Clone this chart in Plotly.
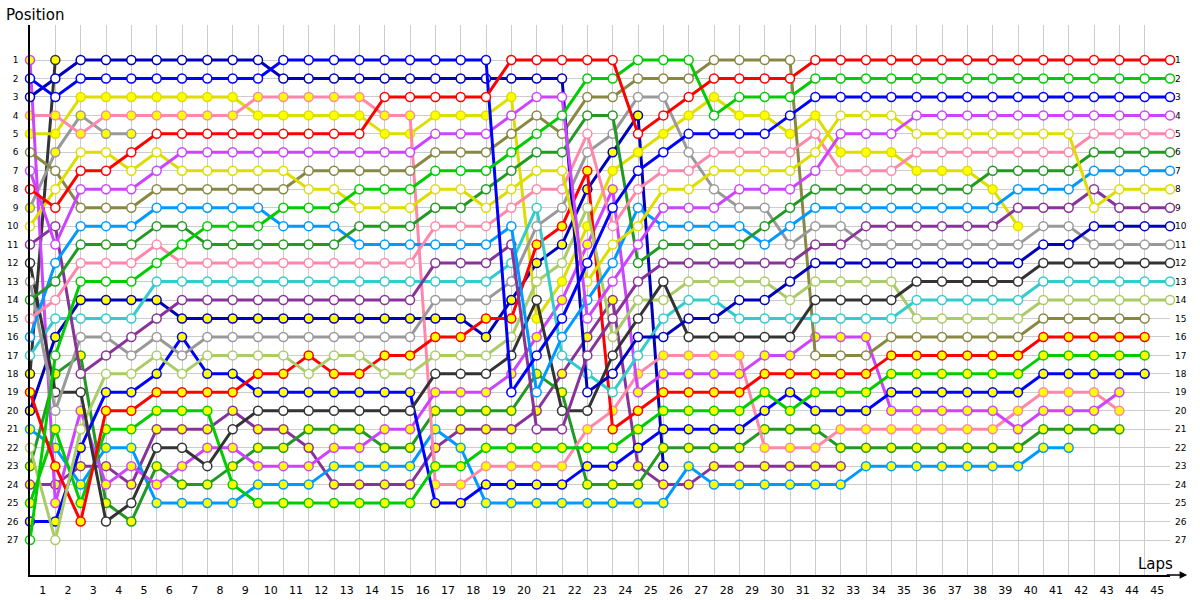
import plotly.graph_objects as go

# Race position per lap (index 0 = start grid, index k = after lap k)
red_w    = [8,9,7,7,6,5,5,5,5,5,5,5,5,5,3,3,3,3,3,1,1,1,1,1,5,4,3,2,2,2,2] + [1]*15
green_w  = [27,17,13,13,13,12,11,10,10,10,9,9,9,8,8,8,7,7,7,6,5,4,2,2,1,1,1,4,3,3,3] + [2]*15
blue_w   = [2,3,2,2,2,2,2,2,2,2,1,1,1,1,1,1,1,1,1,19,17,15,12,9,7,6,5,5,5,5,4] + [3]*15
mag_w    = [7,11,8,8,8,7] + [6]*10 + [5,5,5,4,3,3,15,13,11,9,9,9,8,8,8,7,5,5,5] + [4]*11
yel_w    = [10,8,6,6,7,6,7,7,7,7,7,8,8,9,9,9,8,8,9,8,7,7,13,11,10,8,8,7,7,7,7,6,4,4,4] + [5]*7 + [9,8,8,8]
pink_w   = [15,14,12,12,12,11] + [12]*10 + [10,10,10,9,8,8,5,10,8,7,7,6,6,6,6,5,7,7,7] + [6]*7 + [5]*4
dgreen_w = [14,13,11,11,11,10,10] + [11]*6 + [10]*3 + [9,9,8,7,6,6,4,4,12,11,11,11,11,10,9] + [8]*7 + [7]*4 + [6]*4
lblue_w  = [16,12,10,10,10] + [9]*5 + [10]*3 + [11]*6 + [10,19,16,14,12,9,10,10,10,10,11,10] + [9]*8 + [8]*3 + [7]*4
dpurp_w  = [11,10,18,17,16,15] + [14]*10 + [12,12,12,11,21,21,17,15,13] + [12]*6 + [11,11] + [10]*6 + [9]*3 + [8] + [9]*3
dblue_w  = [3,2] + [1]*8 + [2]*12 + [19,18,16,16,15,15,14,14,13] + [12]*9 + [11,11] + [10]*4
gray_w   = [13,20,16,16,17,16,17] + [16]*9 + [14,14,14,13,10,9,6,5,3,3,6,8,9,9,11,10,10] + [11]*7 + [10,10] + [11]*4
black_w  = [12,19,19,26,25,22,22,23,21] + [20]*7 + [18,18,18,17,14,20,20,17,15,13] + [16]*5 + [14]*4 + [13]*5 + [12]*6
teal_w   = [17,15,15,15,15] + [13]*14 + [12,9,17,18,19,17,15,14,14] + [15]*7 + [14]*5 + [13]*6
lgreen_w = [22,27,21,18,18,17,18] + [17]*4 + [18,17,17,18,18] + [17,17,17,16,13,12,9,16,14,14] + [13]*4 + [14] + [13]*4 + [15]*5 + [14]*6
olive_w  = [6,7,9,9,9,8,8,8,8,8,8] + [7]*5 + [6,6,6,5,4,5,3,3,2,2,2] + [1]*4 + [17,17,17] + [16]*6 + [15]*5

red_y    = [19,23,26,20,20,19,19,19,19,18,18,17,18,18,17,17,16,16,15,15,11,10,7,21,20,19,19,19,19,18,18,18,18,18] + [17]*6 + [16]*5
green_y  = [25,21,25,21,21,20,20,20,24] + [25]*7 + [23,23] + [22]*6 + [21] + [20]*4 + [19,20] + [19]*3 + [18]*6 + [17]*5
blue_y   = [26,26,22,19,19,18,16,18,18] + [19]*7 + [25,25] + [24]*4 + [23,23] + [22] + [21]*4 + [20,19] + [20]*3 + [19]*6 + [18]*5
mag_y    = [1,25,20,24,23,24,23,22,22,23,23,23,22,22,21,21,19,19,19,18,16,14,11,8,19,18,18,18,18,17,17,16,16,16] + [20]*5 + [21] + [20,20,20] + [19]
pink_y   = [4,4,5,4,4,4,4,4,4] + [3]*5 + [4,4] + [24,24] + [23]*4 + [21,20,18] + [17]*4 + [22]*3 + [21]*7 + [20] + [19]*3 + [20]
dgreen_y = [23,18,17,25,26,23,24,24,23,22,22,21,21,21,22,22,20,20,20,20,18,19,24,24,24,22,22,22,22,21,21,21] + [22]*8 + [21]*4
lblue_y  = [21,22,24,22,22,25,25,25,25,24,24,24,23,23,23,23,21,22] + [25]*8 + [23] + [24]*6 + [23]*7 + [22,22]
dpurp_y  = [24,24,23,23,24,21,21,21,20,21,21,22,24,24,24,24,22,21,21,21,20,18,16,14,23,24,24,23,23,23,23,23,23]
yel_y    = [5,5] + [3]*7 + [4]*5 + [5,5] + [4,4,4,3,15,13,10,7,6,5,4,3,4,4,5,4,6,6,6,7,7,7,8,10]
dblue_y  = [20,16,14,14,14,14,15] + [15]*11 + [16,14,12,11,8,6,4,23]
gray_y   = [9,6,4,5,5]
black_y  = [18,1]

# line colour / marker fill for every series
series = [
    (black_y,  "#333333", "#FFFF00"),
    (gray_y,   "#999999", "#FFFF00"),
    (dblue_y,  "#0000BB", "#FFFF00"),
    (yel_y,    "#DDDD00", "#FFFF00"),
    (dpurp_y,  "#883399", "#FFFF00"),
    (lblue_y,  "#0099FF", "#FFFF00"),
    (dgreen_y, "#229922", "#FFFF00"),
    (pink_y,   "#FF88AA", "#FFFF00"),
    (mag_y,    "#CC44FF", "#FFFF00"),
    (blue_y,   "#0000FF", "#FFFF00"),
    (green_y,  "#00CC00", "#FFFF00"),
    (red_y,    "#FF0000", "#FFFF00"),
    (olive_w,  "#888844", "#FFFFFF"),
    (lgreen_w, "#AACC66", "#FFFFFF"),
    (teal_w,   "#33CCCC", "#FFFFFF"),
    (black_w,  "#333333", "#FFFFFF"),
    (gray_w,   "#999999", "#FFFFFF"),
    (dblue_w,  "#0000BB", "#FFFFFF"),
    (dpurp_w,  "#883399", "#FFFFFF"),
    (lblue_w,  "#0099FF", "#FFFFFF"),
    (dgreen_w, "#229922", "#FFFFFF"),
    (pink_w,   "#FF88AA", "#FFFFFF"),
    (yel_w,    "#DDDD00", "#FFFFFF"),
    (mag_w,    "#CC44FF", "#FFFFFF"),
    (blue_w,   "#0000FF", "#FFFFFF"),
    (green_w,  "#00CC00", "#FFFFFF"),
    (red_w,    "#FF0000", "#FFFFFF"),
]

lap_labels = [str(k) for k in range(1, 46)]
positions = list(range(1, 28))

fig = go.Figure()
n = len(series)
for i, (pos, col, fill) in enumerate(series):
    fig.add_trace(go.Scatter(
        x=list(range(len(pos))), y=pos,
        mode="lines+markers",
        line=dict(color=col, width=3),
        marker=dict(size=9, color=fill, line=dict(color=col, width=1.5)),
        cliponaxis=False, showlegend=False, hoverinfo="skip",
        yaxis="y2" if i == n - 1 else "y",
    ))

YR = [28.896, -0.896]
fig.update_layout(
    width=1200, height=600,
    margin=dict(l=30, r=30, t=25, b=25, autoexpand=False),
    paper_bgcolor="white", plot_bgcolor="white",
    font=dict(family="DejaVu Sans", color="#000000"),
    xaxis=dict(
        range=[0, 45], tickmode="array", automargin=False,
        tickvals=[k - 0.5 for k in range(1, 46)], ticktext=lap_labels,
        showgrid=False, zeroline=False, ticks="",
        showline=True, linecolor="#000000", linewidth=1.5,
        tickfont=dict(size=11), ticklabelstandoff=4,
        minor=dict(tickmode="array", tickvals=list(range(46)), showgrid=True,
                   gridcolor="#CCCCCC", gridwidth=1, ticks=""),
    ),
    yaxis=dict(
        range=YR, tickmode="array", tickvals=positions, automargin=False,
        ticktext=[str(p) for p in positions],
        showgrid=True, gridcolor="#CCCCCC", gridwidth=1, zeroline=False,
        ticks="", showline=True, linecolor="#000000", linewidth=1.5,
        tickfont=dict(size=9), ticklabelstandoff=8,
    ),
    yaxis2=dict(
        range=YR, overlaying="y", side="right", tickmode="array", automargin=False,
        tickvals=positions, ticktext=[str(p) for p in positions],
        showgrid=False, zeroline=False, ticks="", showline=False,
        tickfont=dict(size=9), ticklabelstandoff=4,
    ),
    shapes=[
        # blank band above the first row: the grid starts just above position 1
        dict(type="rect", xref="paper", yref="paper", x0=0.002, x1=1.0,
             y0=0.947, y1=1.0, fillcolor="white", line=dict(width=0),
             layer="between"),
    ],
    annotations=[
        dict(text="Position", xref="paper", yref="paper", x=-0.0228, y=1.018,
             xanchor="left", yanchor="middle", showarrow=False,
             font=dict(size=15)),
        dict(text="Laps", xref="paper", yref="paper", x=1.0044, y=0.0,
             xanchor="right", yanchor="bottom", showarrow=False,
             font=dict(size=15)),
        dict(text="", xref="paper", yref="paper", x=1.015, y=0.0,
             ax=-22, ay=0, showarrow=True, arrowhead=2, arrowsize=1,
             arrowwidth=1.5, arrowcolor="#000000"),
    ],
)

fig.write_html("out.html", config={"displayModeBar": False},
               post_script="document.body.style.margin='0';document.body.style.overflow='hidden';")
